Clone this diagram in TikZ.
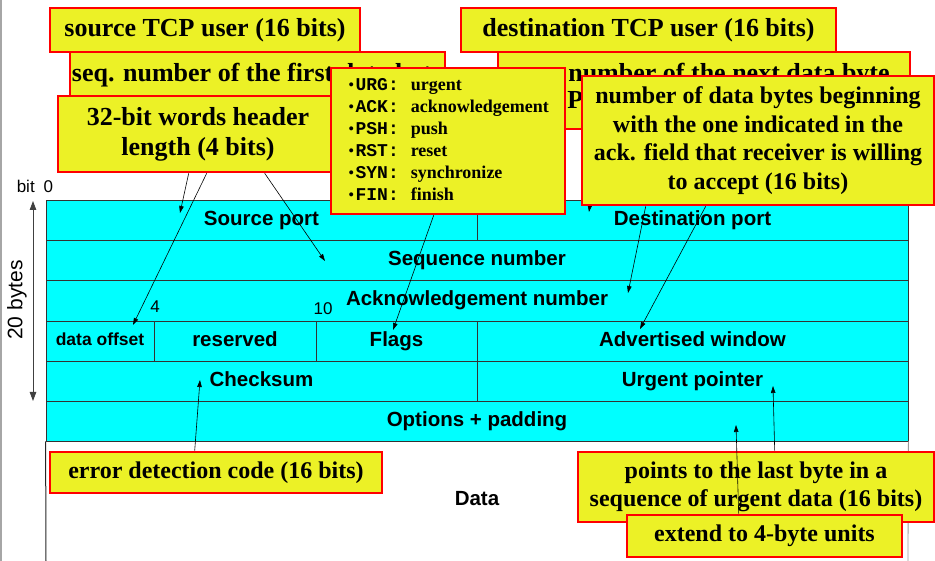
\documentclass[tikz,border=0pt]{standalone}
\usepackage{fontspec}
\setmainfont{Liberation Serif}
\setsansfont{Liberation Sans}
\setmonofont{Liberation Mono}
\usetikzlibrary{arrows.meta,calc}
\pgfdeclarelayer{fields}
\pgfdeclarelayer{pointers}
\pgfsetlayers{fields,pointers,main}
\definecolor{noteyellow}{RGB}{236,241,38}
\definecolor{notered}{RGB}{255,0,0}
\definecolor{fieldcyan}{RGB}{0,255,255}
\newcommand\fsz[2]{\fontsize{#1}{#2}\selectfont}
\newcommand\flagdot{\raisebox{0.5pt}{\fsz{14}{14}\textbullet}}

\begin{document}
\begin{tikzpicture}[x=1pt,y=-1pt,
  note/.style={draw=notered, line width=2.6pt, fill=noteyellow, inner sep=0pt,
    align=center, text=black, font=\bfseries\fsz{24}{28.5}},
  bignote/.style={note, font=\bfseries\fsz{26}{30}},
  field/.style={draw=black!80, line width=0.8pt, fill=fieldcyan, inner sep=0pt,
    text height=15pt, text depth=4.5pt, font=\sffamily\bfseries\fsz{20.5}{24}},
  ptr/.style={line width=0.6pt, -{Triangle[length=7pt,width=4.5pt]}},
  lbl/.style={inner sep=0pt, font=\sffamily\fsz{17}{20}},
]
\useasboundingbox (0,0) rectangle (935,561);

% ---------- TCP header fields ----------
\begin{pgfonlayer}{fields}
  \draw[gray!70, line width=1.2pt] (1,0) -- (1,561);
  \node[field, minimum width=431, minimum height=40] (srcport) at (261.5,220) {Source port};
  \node[field, minimum width=431, minimum height=40] (dstport) at (692.5,220) {Destination port};
  \node[field, minimum width=862, minimum height=40] (seqnum) at (477,260) {Sequence number};
  \node[field, minimum width=862, minimum height=41] (acknum) at (477,300.5) {Acknowledgement number};
  \node[field, minimum width=108, minimum height=40, text height=13pt, text depth=4pt,
        font=\sffamily\bfseries\fsz{17.5}{21}] (doff) at (100,341) {data offset};
  \node[field, minimum width=162, minimum height=40] (rsvd) at (235,341) {reserved};
  \node[field, minimum width=161, minimum height=40] (flags) at (396.5,341) {Flags};
  \node[field, minimum width=431, minimum height=40] (awnd) at (692.5,341) {Advertised window};
  \node[field, minimum width=431, minimum height=40] (cksum) at (261.5,381) {Checksum};
  \node[field, minimum width=431, minimum height=40] (urgptr) at (692.5,381) {Urgent pointer};
  \node[field, minimum width=862, minimum height=40] (opts) at (477,421) {Options + padding};
  % payload area below the header
  \draw[black!85, line width=1pt] (opts.south west) -- (46,561);
  \draw[gray!80, line width=0.8pt] (opts.south east) -- (908,561);
  \node[field, draw=none, fill=none] (payload) at (477,500) {Data};
  % bit positions and header size
  \node[lbl] (bitzero) at (35,186) {bit\hspace{9pt}0};
  \node[lbl] (bitfour) at (155,307) {4};
  \node[lbl] (bitten) at (323,309) {10};
  \node[lbl, rotate=90, font=\sffamily\fsz{21}{24}] (hdrsize) at (17,300) {20 bytes};
  \coordinate (sizetop) at (33,201);
  \coordinate (sizebot) at (33,401);
  \draw[black!75, line width=0.8pt, {Triangle[length=9pt,width=6.5pt]}-{Triangle[length=9pt,width=6.5pt]}]
    (sizetop) -- (sizebot);
\end{pgfonlayer}

% ---------- explanatory notes ----------
\node[bignote, minimum width=310, minimum height=44] (srcuser) at (205,30) {source TCP user (16 bits)};
\node[bignote, minimum width=375, minimum height=44] (dstuser) at (648.5,30) {destination TCP user (16 bits)};
\node[bignote, minimum width=375, minimum height=46] (seqnote) at (257.5,75) {seq. number of the first data byte};
\node[bignote, minimum width=412, minimum height=77] (acknote) at (704,90.5) {};
\node[inner sep=0pt, font=\bfseries\fsz{26}{30}] (acktxt) at (729,75) {number of the next data byte};
\node[inner sep=0pt, anchor=west, font=\bfseries\fsz{26}{30}] (acktxtb) at (531,102) {TCP expects to receive (32 bits)};
\node[bignote, minimum width=280, minimum height=76] (hdrnote) at (198,134) {32-bit words header\\length (4 bits)};
\node[note, minimum width=234, minimum height=146, font=\bfseries\fsz{18}{22}] (flagnote) at (448,141) {%
  \begin{tabular}{@{}l@{\hspace{12pt}}l@{}}
  \texttt{\flagdot URG:} & urgent\\
  \texttt{\flagdot ACK:} & acknowledgement\\
  \texttt{\flagdot PSH:} & push\\
  \texttt{\flagdot RST:} & reset\\
  \texttt{\flagdot SYN:} & synchronize\\
  \texttt{\flagdot FIN:} & finish
  \end{tabular}};
\node[note, minimum width=352, minimum height=129, font=\bfseries\fsz{24}{28.7}] (winnote) at (758,140.5)
  {number of data bytes beginning\\with the one indicated in the\\ack. field that receiver is willing\\to accept (16 bits)};
\node[note, minimum width=332, minimum height=41] (errnote) at (216,472.5) {error detection code (16 bits)};
\node[note, minimum width=356, minimum height=70] (urgnote) at (756,487) {points to the last byte in a\\sequence of urgent data (16 bits)};

% ---------- pointers from notes to fields ----------
\coordinate (tipsrc) at (180,213);
\coordinate (tipdoff) at (133,325);
\coordinate (tipseq) at (325,261);
\coordinate (tipflags) at (393,330);
\coordinate (tipdst) at (589,212);
\coordinate (tipack) at (628,293);
\coordinate (tipwnd) at (640,329);
\coordinate (tipurg) at (773,386);
\coordinate (tipopt) at (736,425);
\coordinate (tipcks) at (200,380);
\begin{pgfonlayer}{pointers}
  \draw[ptr] ($(hdrnote.south west)+(132,0)$) -- (tipsrc);
  \draw[ptr] ($(hdrnote.south west)+(150,0)$) -- (tipdoff);
  \draw[ptr] ($(hdrnote.south west)+(208,0)$) -- (tipseq);
  \draw[ptr] ($(flagnote.south west)+(104,0)$) -- (tipflags);
  \draw[ptr] ($(dstuser.south west)+(150,0)$) -- (tipdst);
  \draw[ptr] ($(winnote.south west)+(65,0)$) -- (tipack);
  \draw[ptr] ($(winnote.south west)+(125,0)$) -- (tipwnd);
  \draw[ptr] ($(urgnote.north west)+(198,0)$) -- (tipurg);
  \draw[ptr] ($(errnote.north west)+(146,0)$) -- (tipcks);
\end{pgfonlayer}

\node[note, minimum width=275, minimum height=42] (padnote) at (764.5,536) {extend to 4-byte units};
\draw[ptr] ($(padnote.north west)+(113,0)$) -- (tipopt);
\end{tikzpicture}
\end{document}
